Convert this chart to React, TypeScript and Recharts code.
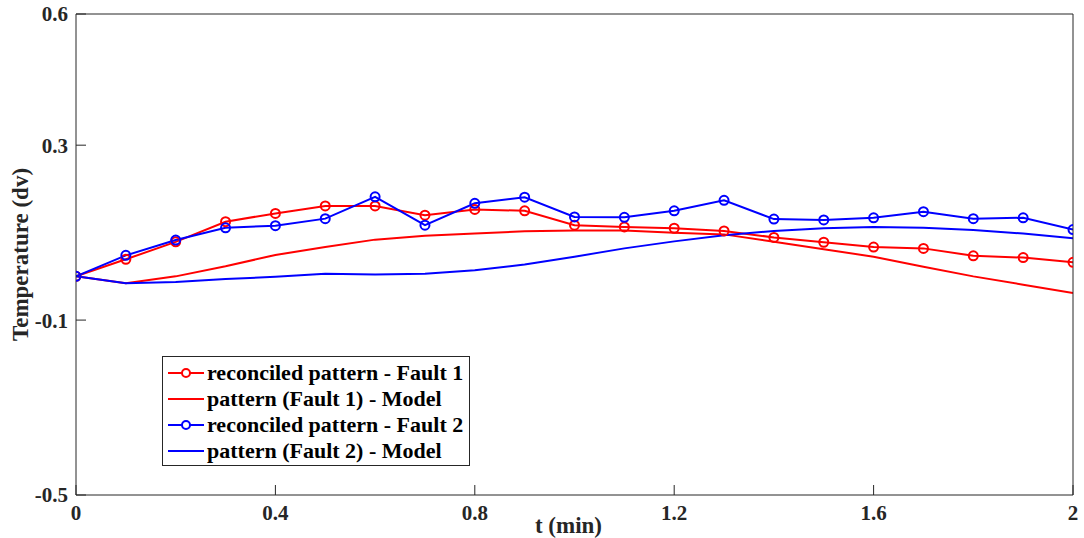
import { LineChart, Line, XAxis, YAxis, Legend } from "recharts";

const time = [0, 0.1, 0.2, 0.3, 0.4, 0.5, 0.6, 0.7, 0.8, 0.9, 1.0, 1.1, 1.2, 1.3, 1.4, 1.5, 1.6, 1.7, 1.8, 1.9, 2.0];
const reconciledFault1 = [0, 0.039, 0.079, 0.125, 0.144, 0.161, 0.161, 0.14, 0.153, 0.15, 0.117, 0.113, 0.11, 0.104, 0.089, 0.078, 0.067, 0.064, 0.047, 0.043, 0.032];
const modelFault1 = [0, -0.016, 0, 0.023, 0.049, 0.067, 0.084, 0.093, 0.098, 0.103, 0.105, 0.105, 0.1, 0.096, 0.079, 0.062, 0.045, 0.022, 0.0, -0.019, -0.038];
const reconciledFault2 = [0, 0.048, 0.083, 0.111, 0.116, 0.132, 0.182, 0.117, 0.167, 0.181, 0.136, 0.135, 0.15, 0.174, 0.131, 0.129, 0.134, 0.148, 0.132, 0.134, 0.107];
const modelFault2 = [0, -0.016, -0.013, -0.006, -0.001, 0.006, 0.004, 0.006, 0.014, 0.027, 0.045, 0.064, 0.08, 0.094, 0.104, 0.11, 0.113, 0.111, 0.106, 0.098, 0.087];

const xTicks = [0, 0.4, 0.8, 1.2, 1.6, 2];
const yTicks = [-0.5, -0.1, 0.3, 0.6];

const series = [
  { key: "rf1", name: "reconciled pattern - Fault 1", color: "#ff0000", marker: true },
  { key: "mf1", name: "pattern (Fault 1) - Model", color: "#ff0000", marker: false },
  { key: "rf2", name: "reconciled pattern - Fault 2", color: "#0000ff", marker: true },
  { key: "mf2", name: "pattern (Fault 2) - Model", color: "#0000ff", marker: false },
];

const data = time.map((t, i) => ({
  t,
  rf1: reconciledFault1[i],
  mf1: modelFault1[i],
  rf2: reconciledFault2[i],
  mf2: modelFault2[i],
}));

const FONT = '"Liberation Serif", "Times New Roman", serif';
const AXIS = "#262626";

function LegendBox() {
  return (
    <div
      style={{
        border: `1px solid ${AXIS}`,
        background: "#fff",
        padding: "3px 4px 1px 5px",
        fontFamily: FONT,
        fontWeight: "bold",
        fontSize: 22,
        color: "#000",
        width: 308,
        boxSizing: "border-box",
      }}
    >
      {series.map((s) => (
        <div key={s.key} style={{ display: "flex", alignItems: "center", height: 26 }}>
          <svg width={36} height={14} style={{ marginRight: 3, flexShrink: 0 }}>
            <line x1={0} y1={7} x2={36} y2={7} stroke={s.color} strokeWidth={2} />
            {s.marker && <circle cx={18} cy={7} r={4} fill="#fff" stroke={s.color} strokeWidth={2} />}
          </svg>
          <span style={{ whiteSpace: "nowrap" }}>{s.name}</span>
        </div>
      ))}
    </div>
  );
}

const tickStyle = { fontFamily: FONT, fontWeight: "bold", fontSize: 21, fill: AXIS };
const labelStyle = { fontFamily: FONT, fontWeight: "bold", fontSize: 23, fill: AXIS };

export default function App() {
  return (
    <div>
      <style>{`body{margin:0;background:#fff}`}</style>
      <LineChart width={1084} height={538} data={data} margin={{ top: 13, right: 10, left: 0, bottom: 0 }}>
        <XAxis
          dataKey="t"
          type="number"
          domain={[0, 2]}
          ticks={xTicks}
          tickFormatter={(v) => String(v)}
          height={43}
          stroke={AXIS}
          tickSize={-10}
          tickMargin={20}
          tick={tickStyle}
          allowDataOverflow
          label={{
            value: "t (min)",
            position: "insideBottom",
            offset: 5,
            dx: -6,
            style: labelStyle,
          }}
        />
        <XAxis
          xAxisId="top"
          orientation="top"
          type="number"
          domain={[0, 2]}
          ticks={xTicks}
          height={1}
          stroke={AXIS}
          tickSize={-10}
          tick={false}
          allowDataOverflow
        />
        <YAxis
          type="number"
          domain={[-0.5, 0.6]}
          ticks={yTicks}
          width={76}
          stroke={AXIS}
          tickSize={-10}
          tickMargin={18}
          tick={tickStyle}
          allowDataOverflow
          label={{
            value: "Temperature (dv)",
            angle: -90,
            position: "insideLeft",
            offset: 20,
            style: { ...labelStyle, textAnchor: "middle" },
          }}
        />
        <YAxis
          yAxisId="right"
          orientation="right"
          type="number"
          domain={[-0.5, 0.6]}
          ticks={yTicks}
          width={1}
          stroke={AXIS}
          tickSize={-10}
          tick={false}
          allowDataOverflow
        />
        <Legend
          layout="vertical"
          align="center"
          verticalAlign="middle"
          wrapperStyle={{ left: 162, top: 356, width: 308 }}
          content={() => <LegendBox />}
        />
        {series.map((s) => (
          <Line
            key={s.key}
            dataKey={s.key}
            name={s.name}
            type="linear"
            stroke={s.color}
            strokeWidth={2}
            dot={s.marker ? { r: 4.5, stroke: s.color, strokeWidth: 2, fill: "none" } : false}
            activeDot={false}
            isAnimationActive={false}
          />
        ))}
      </LineChart>
    </div>
  );
}
